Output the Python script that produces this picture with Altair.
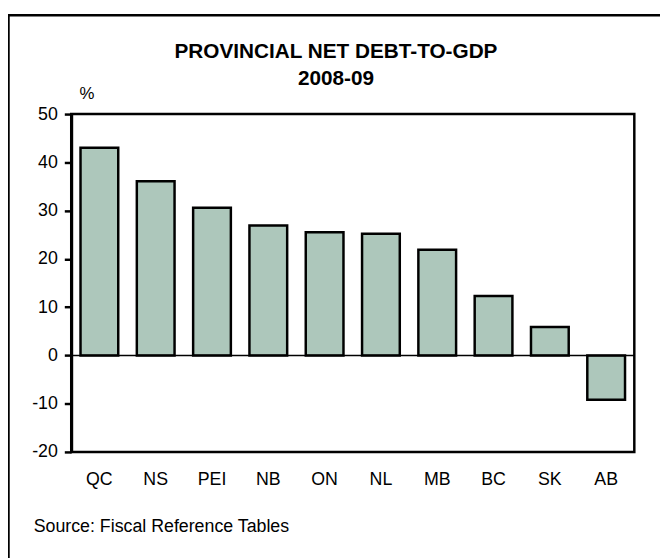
import altair as alt
import pandas as pd

provinces = ["QC", "NS", "PEI", "NB", "ON", "NL", "MB", "BC", "SK", "AB"]
values = [43.0, 36.1, 30.6, 26.9, 25.5, 25.2, 21.9, 12.3, 5.9, -9.2]
y_ticks = [-20, -10, 0, 10, 20, 30, 40, 50]
title_lines = ["PROVINCIAL NET DEBT-TO-GDP", "2008-09"]
unit_label = "%"
source_text = "Source: Fiscal Reference Tables"

FONT = "Liberation Sans"
W, H = 570, 342
PAD_L, PAD_T = 64, 104
SVG_W, SVG_H = 660, 550

df = pd.DataFrame({"province": provinces, "value": values})

x_enc = alt.X(
    "province:N", sort=provinces,
    scale=alt.Scale(paddingInner=0.33, paddingOuter=0.165),
    axis=alt.Axis(title=None, labelAngle=0, ticks=False, tickSize=0, domain=False,
                  labelFont=FONT, labelFontSize=18, labelColor="black",
                  labelBaseline="alphabetic", labelPadding=33),
)
y_enc = alt.Y(
    "value:Q", scale=alt.Scale(domain=[-20, 50], nice=False, zero=False),
    axis=alt.Axis(title=None, values=y_ticks, grid=False, tickSize=7,
                  tickWidth=2.5, tickColor="black", domainColor="black",
                  domainWidth=3, labelFont=FONT, labelFontSize=18,
                  labelColor="black", labelPadding=7,
                  labelExpr="'' + datum.value"),
)

bars = alt.Chart(df).mark_bar(
    color="#adc7bb", stroke="black", strokeWidth=2.5
).encode(x=x_enc, y=y_enc)

zero = alt.Chart(pd.DataFrame({"z": [0]})).mark_rule(
    color="black", strokeWidth=1.5
).encode(y="z:Q")

one = pd.DataFrame({"a": [0]})

frame_left = alt.Chart(one).mark_rule(color="black", strokeWidth=2.5).encode(
    x=alt.value(-63.5), y=alt.value(-101), y2=alt.value(H + 200))
frame_top = alt.Chart(one).mark_rule(color="black", strokeWidth=2.5).encode(
    x=alt.value(-64.5), x2=alt.value(W + 200), y=alt.value(-100))

t1 = alt.Chart(one).mark_text(
    font=FONT, fontSize=21, fontWeight="bold", align="center",
    baseline="alphabetic", color="black"
).encode(x=alt.value(268), y=alt.value(-57), text=alt.value(title_lines[0]))

t2 = alt.Chart(one).mark_text(
    font=FONT, fontSize=21, fontWeight="bold", align="center",
    baseline="alphabetic", color="black"
).encode(x=alt.value(268), y=alt.value(-29), text=alt.value(title_lines[1]))

pct = alt.Chart(one).mark_text(
    font=FONT, fontSize=17, align="center", baseline="alphabetic", color="black"
).encode(x=alt.value(16), y=alt.value(-15), text=alt.value(unit_label))

src = alt.Chart(one).mark_text(
    font=FONT, fontSize=18, align="left", baseline="alphabetic", color="black"
).encode(x=alt.value(-38), y=alt.value(423), text=alt.value(source_text))

chart = alt.layer(frame_left, frame_top, bars, zero, t1, t2, pct, src).properties(
    width=W, height=H,
    autosize=alt.AutoSizeParams(type="none"),
    padding={"left": PAD_L, "top": PAD_T,
             "right": SVG_W - PAD_L - W, "bottom": SVG_H - PAD_T - H},
).configure(background="white").configure_view(stroke="black", strokeWidth=2.5)

chart.save("out.html", embed_options={"renderer": "svg", "actions": False})
